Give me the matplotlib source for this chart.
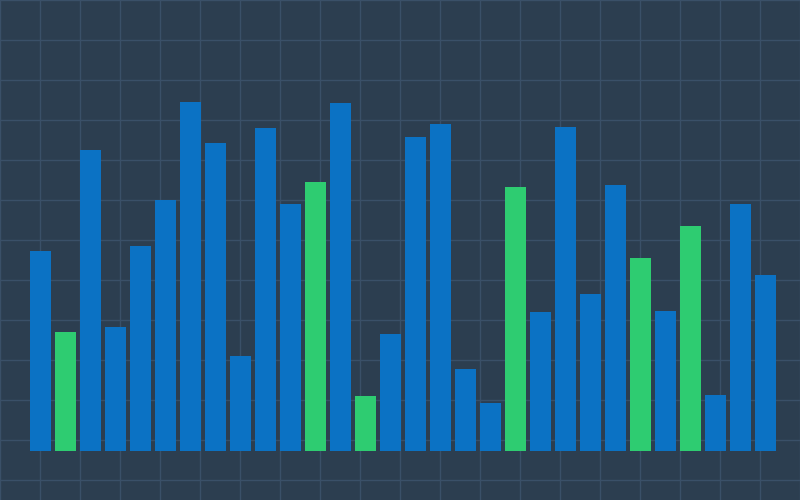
import numpy as np
import matplotlib
matplotlib.use("Agg")
from matplotlib import pyplot as plt

# bar heights (in pixels above the baseline)
values = [200, 119, 301, 124, 205, 251, 349, 308, 95, 323,
          247, 269, 348, 55, 117, 314, 327, 82, 48, 264,
          139, 324, 157, 266, 193, 140, 225, 56, 247, 176]
highlight = [1, 11, 13, 19, 24, 26]

blue = "#0b72c4"
green = "#2ecc71"
colors = [green if i in highlight else blue for i in range(len(values))]

fig = plt.figure(figsize=(8, 5), dpi=100, facecolor="#2c3e50")
ax = fig.add_axes([0, 0, 1, 1], facecolor="#2c3e50")

x = np.arange(len(values))
ax.bar(x, values, width=0.84, color=colors, zorder=2)

# 25 px per bar, first bar centre at 40.5 px, baseline 49 px from bottom
x0 = -40.5 / 25
ax.set_xlim(x0, x0 + 800 / 25)
ax.set_ylim(-49, 451)

ax.set_xticks(x0 + np.arange(0, 801, 40) / 25)
ax.set_yticks(451 - np.arange(0, 501, 40))
ax.grid(True, color="#3a5068", linewidth=1, zorder=0)
ax.tick_params(length=0, labelbottom=False, labelleft=False)
for s in ax.spines.values():
    s.set_visible(False)

fig.savefig("out.png", facecolor=fig.get_facecolor())
